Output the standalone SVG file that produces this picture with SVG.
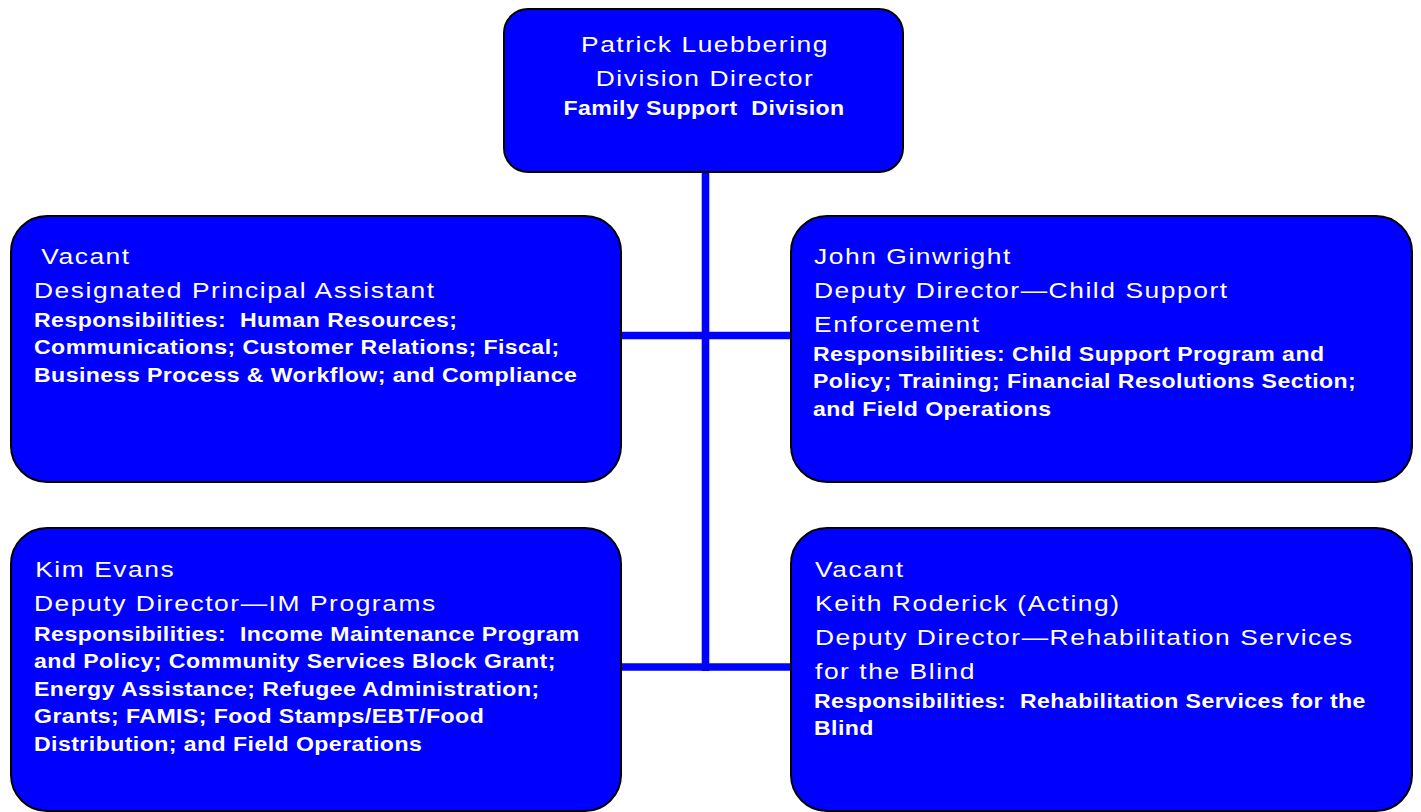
<svg xmlns="http://www.w3.org/2000/svg" width="1421" height="812" viewBox="0 0 1421 812">
<style>
.box{fill:#0000FF;stroke:#000;stroke-width:2}
.conn{stroke:#0000FF;stroke-width:7.6;fill:none}
.t{font-family:"Liberation Sans",Arial,sans-serif;font-size:22px;letter-spacing:1.3px;fill:#fff}
.b{font-family:"Liberation Sans",Arial,sans-serif;font-size:21px;font-weight:bold;letter-spacing:0.4px;fill:#fff}
</style>
<rect width="1421" height="812" fill="#fff"/>
<g id="connectors">
<line class="conn" x1="705.5" y1="172" x2="705.5" y2="671"/>
<line class="conn" x1="621" y1="335.5" x2="791" y2="335.5"/>
<line class="conn" x1="621" y1="667" x2="791" y2="667"/>
</g>
<g id="director">
<rect class="box" x="504" y="9" width="399" height="163" rx="24"/>
<g transform="translate(705 0) scale(1.2 1)">
<text class="t" x="0" y="52" text-anchor="middle">Patrick Luebbering</text>
<text class="t" x="0" y="86" text-anchor="middle">Division Director</text>
</g>
<g transform="translate(704 0) scale(1.1 1)">
<text class="b" x="0" y="115" text-anchor="middle" xml:space="preserve">Family Support  Division</text>
</g>
</g>
<g id="principal-assistant">
<rect class="box" x="11" y="216" width="610" height="266" rx="36"/>
<g transform="translate(34 0) scale(1.2 1)">
<text class="t" x="6" y="264">Vacant</text>
<text class="t" x="0" y="298">Designated Principal Assistant</text>
</g>
<g transform="translate(34 0) scale(1.1 1)">
<text class="b" x="0" y="327" xml:space="preserve">Responsibilities:  Human Resources;</text>
<text class="b" x="0" y="354.5">Communications; Customer Relations; Fiscal;</text>
<text class="b" x="0" y="382">Business Process &amp; Workflow; and Compliance</text>
</g>
</g>
<g id="child-support">
<rect class="box" x="791" y="216" width="621" height="266" rx="36"/>
<g transform="translate(814 0) scale(1.2 1)">
<text class="t" x="0" y="264">John Ginwright</text>
<text class="t" x="0" y="298">Deputy Director—Child Support</text>
<text class="t" x="0" y="332">Enforcement</text>
</g>
<g transform="translate(813 0) scale(1.1 1)">
<text class="b" x="0" y="361">Responsibilities: Child Support Program and</text>
<text class="b" x="0" y="388.5">Policy; Training; Financial Resolutions Section;</text>
<text class="b" x="0" y="416">and Field Operations</text>
</g>
</g>
<g id="im-programs">
<rect class="box" x="11" y="528" width="610" height="283" rx="36"/>
<g transform="translate(34 0) scale(1.2 1)">
<text class="t" x="1" y="577">Kim Evans</text>
<text class="t" x="0" y="611.5">Deputy Director—IM Programs</text>
</g>
<g transform="translate(34 0) scale(1.1 1)">
<text class="b" x="0" y="641" xml:space="preserve">Responsibilities:  Income Maintenance Program</text>
<text class="b" x="0" y="668.5">and Policy; Community Services Block Grant;</text>
<text class="b" x="0" y="696">Energy Assistance; Refugee Administration;</text>
<text class="b" x="0" y="723.5">Grants; FAMIS; Food Stamps/EBT/Food</text>
<text class="b" x="0" y="751">Distribution; and Field Operations</text>
</g>
</g>
<g id="rehab-blind">
<rect class="box" x="791" y="528" width="621" height="283" rx="36"/>
<g transform="translate(815 0) scale(1.2 1)">
<text class="t" x="0" y="577">Vacant</text>
<text class="t" x="0" y="611">Keith Roderick (Acting)</text>
<text class="t" x="0" y="645">Deputy Director—Rehabilitation Services</text>
<text class="t" x="0" y="679">for the Blind</text>
</g>
<g transform="translate(814 0) scale(1.1 1)">
<text class="b" x="0" y="708" xml:space="preserve">Responsibilities:  Rehabilitation Services for the</text>
<text class="b" x="0" y="735.5">Blind</text>
</g>
</g>
</svg>
